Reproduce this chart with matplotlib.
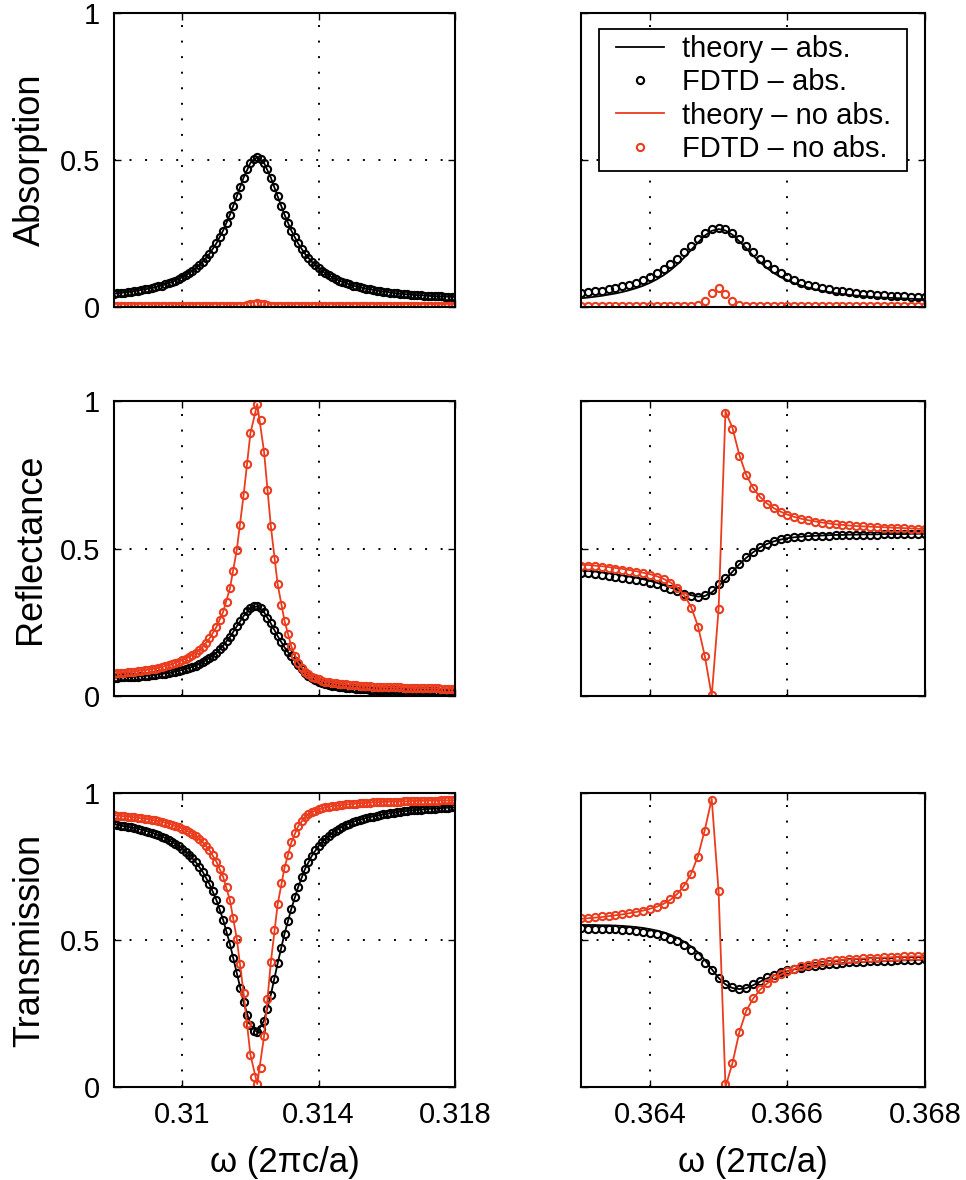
import numpy as np
import matplotlib.pyplot as plt
from matplotlib.patches import Rectangle

plt.rcParams['font.family'] = ['Liberation Sans', 'DejaVu Sans']

RED = '#eb3c1e'

# frequency sweeps, units of 2*pi*c/a
w_left = np.round(np.linspace(0.308, 0.318, 101), 4)
w_left_th = np.round(np.linspace(0.308, 0.318, 51), 4)
w_right = np.round(np.linspace(0.363, 0.368, 51), 4)
w_right_th = np.round(np.linspace(0.363, 0.368, 51), 4)

# ---------------- left resonance (omega ~ 0.3122) ----------------
abs_fdtd_L = [
    0.045, 0.046, 0.048, 0.049, 0.051, 0.052, 0.054, 0.056, 0.058, 0.060,
    0.062, 0.065, 0.067, 0.070, 0.073, 0.077, 0.081, 0.085, 0.090, 0.095,
    0.101, 0.108, 0.115, 0.123, 0.132, 0.142, 0.154, 0.167, 0.181, 0.197,
    0.216, 0.237, 0.260, 0.286, 0.314, 0.344, 0.376, 0.409, 0.440, 0.468,
    0.490, 0.505, 0.510, 0.505, 0.490, 0.468, 0.440, 0.409, 0.376, 0.344,
    0.314, 0.286, 0.260, 0.237, 0.216, 0.197, 0.181, 0.167, 0.154, 0.142,
    0.132, 0.123, 0.115, 0.108, 0.101, 0.095, 0.090, 0.085, 0.081, 0.077,
    0.073, 0.070, 0.067, 0.065, 0.062, 0.060, 0.058, 0.056, 0.054, 0.052,
    0.051, 0.049, 0.048, 0.046, 0.045, 0.044, 0.043, 0.042, 0.041, 0.040,
    0.040, 0.039, 0.038, 0.037, 0.037, 0.036, 0.036, 0.035, 0.035, 0.034,
    0.034]
abs_theory_L = [
    0.045, 0.048, 0.051, 0.054, 0.058, 0.062, 0.067, 0.073, 0.081, 0.090,
    0.101, 0.115, 0.132, 0.154, 0.181, 0.216, 0.260, 0.314, 0.376, 0.440,
    0.490, 0.510, 0.490, 0.440, 0.376, 0.314, 0.260, 0.216, 0.181, 0.154,
    0.132, 0.115, 0.101, 0.090, 0.081, 0.073, 0.067, 0.062, 0.058, 0.054,
    0.051, 0.048, 0.045, 0.043, 0.041, 0.040, 0.038, 0.037, 0.036, 0.035,
    0.034]
abs_fdtd_noabs_L = [
    0.003, 0.003, 0.003, 0.003, 0.003, 0.003, 0.003, 0.003, 0.003, 0.003,
    0.003, 0.003, 0.003, 0.003, 0.003, 0.003, 0.003, 0.003, 0.003, 0.003,
    0.003, 0.003, 0.003, 0.003, 0.003, 0.003, 0.003, 0.003, 0.003, 0.003,
    0.003, 0.003, 0.003, 0.003, 0.003, 0.003, 0.003, 0.003, 0.005, 0.007,
    0.009, 0.011, 0.012, 0.011, 0.009, 0.007, 0.005, 0.004, 0.003, 0.003,
    0.003, 0.003, 0.003, 0.003, 0.003, 0.003, 0.003, 0.003, 0.003, 0.003,
    0.003, 0.003, 0.003, 0.003, 0.003, 0.003, 0.003, 0.003, 0.003, 0.003,
    0.003, 0.003, 0.003, 0.003, 0.003, 0.003, 0.003, 0.003, 0.003, 0.003,
    0.003, 0.003, 0.003, 0.003, 0.003, 0.003, 0.003, 0.003, 0.003, 0.003,
    0.003, 0.003, 0.003, 0.003, 0.003, 0.003, 0.003, 0.003, 0.003, 0.003,
    0.003]
abs_theory_noabs_L = [
    0.0, 0.0, 0.0, 0.0, 0.0, 0.0, 0.0, 0.0, 0.0, 0.0,
    0.0, 0.0, 0.0, 0.0, 0.0, 0.0, 0.0, 0.0, 0.0, 0.0,
    0.0, 0.0, 0.0, 0.0, 0.0, 0.0, 0.0, 0.0, 0.0, 0.0,
    0.0, 0.0, 0.0, 0.0, 0.0, 0.0, 0.0, 0.0, 0.0, 0.0,
    0.0, 0.0, 0.0, 0.0, 0.0, 0.0, 0.0, 0.0, 0.0, 0.0,
    0.0]

ref_fdtd_L = [
    0.061, 0.062, 0.063, 0.063, 0.064, 0.065, 0.065, 0.066, 0.067, 0.068,
    0.069, 0.070, 0.072, 0.073, 0.075, 0.076, 0.078, 0.080, 0.083, 0.085,
    0.088, 0.091, 0.095, 0.099, 0.103, 0.108, 0.114, 0.121, 0.129, 0.137,
    0.147, 0.158, 0.171, 0.185, 0.200, 0.218, 0.236, 0.254, 0.271, 0.287,
    0.298, 0.304, 0.304, 0.297, 0.284, 0.266, 0.246, 0.224, 0.203, 0.183,
    0.165, 0.149, 0.134, 0.118, 0.104, 0.090, 0.078, 0.068, 0.060, 0.053,
    0.048, 0.044, 0.040, 0.037, 0.035, 0.033, 0.031, 0.029, 0.028, 0.027,
    0.026, 0.025, 0.024, 0.023, 0.023, 0.022, 0.022, 0.021, 0.021, 0.020,
    0.020, 0.019, 0.019, 0.019, 0.018, 0.018, 0.018, 0.017, 0.017, 0.017,
    0.017, 0.016, 0.016, 0.016, 0.016, 0.015, 0.015, 0.015, 0.015, 0.015,
    0.015]
ref_theory_L = [
    0.061, 0.063, 0.064, 0.065, 0.067, 0.069, 0.072, 0.075, 0.078, 0.083,
    0.088, 0.095, 0.103, 0.114, 0.129, 0.147, 0.171, 0.200, 0.236, 0.271,
    0.298, 0.304, 0.284, 0.246, 0.203, 0.165, 0.134, 0.104, 0.078, 0.060,
    0.048, 0.040, 0.035, 0.031, 0.028, 0.026, 0.024, 0.023, 0.022, 0.021,
    0.020, 0.019, 0.018, 0.018, 0.017, 0.017, 0.016, 0.016, 0.015, 0.015,
    0.015]
ref_fdtd_noabs_L = [
    0.076, 0.077, 0.078, 0.079, 0.080, 0.082, 0.083, 0.084, 0.086, 0.087,
    0.089, 0.091, 0.093, 0.095, 0.098, 0.101, 0.104, 0.108, 0.112, 0.116,
    0.121, 0.126, 0.132, 0.139, 0.147, 0.156, 0.167, 0.180, 0.195, 0.212,
    0.233, 0.257, 0.285, 0.320, 0.365, 0.425, 0.495, 0.580, 0.680, 0.785,
    0.890, 0.965, 0.990, 0.935, 0.828, 0.700, 0.575, 0.465, 0.378, 0.307,
    0.255, 0.210, 0.168, 0.137, 0.113, 0.095, 0.082, 0.073, 0.066, 0.060,
    0.056, 0.052, 0.049, 0.047, 0.045, 0.043, 0.042, 0.040, 0.039, 0.038,
    0.037, 0.036, 0.035, 0.034, 0.034, 0.033, 0.032, 0.032, 0.031, 0.031,
    0.030, 0.030, 0.029, 0.029, 0.029, 0.028, 0.028, 0.028, 0.027, 0.027,
    0.027, 0.027, 0.026, 0.026, 0.026, 0.026, 0.025, 0.025, 0.025, 0.025,
    0.025]
ref_theory_noabs_L = [
    0.076, 0.078, 0.080, 0.083, 0.086, 0.089, 0.093, 0.098, 0.104, 0.112,
    0.121, 0.132, 0.147, 0.167, 0.195, 0.233, 0.285, 0.365, 0.495, 0.680,
    0.890, 0.990, 0.828, 0.575, 0.378, 0.255, 0.168, 0.113, 0.082, 0.066,
    0.056, 0.049, 0.045, 0.042, 0.039, 0.037, 0.035, 0.034, 0.032, 0.031,
    0.030, 0.029, 0.029, 0.028, 0.027, 0.027, 0.026, 0.026, 0.025, 0.025,
    0.025]

tra_fdtd_L = [
    0.894, 0.892, 0.889, 0.888, 0.885, 0.883, 0.881, 0.878, 0.875, 0.872,
    0.869, 0.865, 0.861, 0.857, 0.852, 0.847, 0.841, 0.835, 0.827, 0.820,
    0.811, 0.801, 0.790, 0.778, 0.765, 0.750, 0.732, 0.712, 0.690, 0.666,
    0.637, 0.605, 0.569, 0.529, 0.486, 0.438, 0.388, 0.337, 0.289, 0.245,
    0.212, 0.191, 0.186, 0.198, 0.226, 0.266, 0.314, 0.367, 0.421, 0.473,
    0.521, 0.565, 0.606, 0.645, 0.680, 0.713, 0.741, 0.765, 0.786, 0.805,
    0.820, 0.833, 0.845, 0.855, 0.864, 0.872, 0.879, 0.886, 0.891, 0.896,
    0.901, 0.905, 0.909, 0.912, 0.915, 0.918, 0.920, 0.923, 0.925, 0.928,
    0.929, 0.932, 0.933, 0.935, 0.937, 0.938, 0.939, 0.941, 0.942, 0.943,
    0.943, 0.945, 0.946, 0.947, 0.947, 0.949, 0.949, 0.950, 0.950, 0.951,
    0.951]
tra_theory_L = [
    0.894, 0.889, 0.885, 0.881, 0.875, 0.869, 0.861, 0.852, 0.841, 0.827,
    0.811, 0.790, 0.765, 0.732, 0.690, 0.637, 0.569, 0.486, 0.388, 0.289,
    0.212, 0.186, 0.226, 0.314, 0.421, 0.521, 0.606, 0.680, 0.741, 0.786,
    0.820, 0.845, 0.864, 0.879, 0.891, 0.901, 0.909, 0.915, 0.920, 0.925,
    0.929, 0.933, 0.937, 0.939, 0.942, 0.943, 0.946, 0.947, 0.949, 0.950,
    0.951]
tra_fdtd_noabs_L = [
    0.924, 0.923, 0.922, 0.921, 0.920, 0.918, 0.917, 0.916, 0.914, 0.913,
    0.911, 0.909, 0.907, 0.905, 0.902, 0.899, 0.896, 0.892, 0.888, 0.884,
    0.879, 0.874, 0.868, 0.861, 0.853, 0.844, 0.833, 0.820, 0.805, 0.788,
    0.767, 0.743, 0.715, 0.680, 0.635, 0.575, 0.505, 0.420, 0.320, 0.215,
    0.110, 0.035, 0.010, 0.065, 0.172, 0.300, 0.425, 0.535, 0.622, 0.693,
    0.745, 0.790, 0.832, 0.863, 0.887, 0.905, 0.918, 0.927, 0.934, 0.940,
    0.944, 0.948, 0.951, 0.953, 0.955, 0.957, 0.958, 0.960, 0.961, 0.962,
    0.963, 0.964, 0.965, 0.966, 0.966, 0.967, 0.968, 0.968, 0.969, 0.969,
    0.970, 0.970, 0.971, 0.971, 0.971, 0.972, 0.972, 0.972, 0.973, 0.973,
    0.973, 0.973, 0.974, 0.974, 0.974, 0.974, 0.975, 0.975, 0.975, 0.975,
    0.975]
tra_theory_noabs_L = [
    0.924, 0.922, 0.920, 0.917, 0.914, 0.911, 0.907, 0.902, 0.896, 0.888,
    0.879, 0.868, 0.853, 0.833, 0.805, 0.767, 0.715, 0.635, 0.505, 0.320,
    0.110, 0.010, 0.172, 0.425, 0.622, 0.745, 0.832, 0.887, 0.918, 0.934,
    0.944, 0.951, 0.955, 0.958, 0.961, 0.963, 0.965, 0.966, 0.968, 0.969,
    0.970, 0.971, 0.971, 0.972, 0.973, 0.973, 0.974, 0.974, 0.975, 0.975,
    0.975]

# ---------------- right resonance (omega ~ 0.365, Fano) ----------------
abs_fdtd_R = [
    0.047, 0.050, 0.053, 0.056, 0.060, 0.065, 0.070, 0.076, 0.083, 0.092,
    0.102, 0.114, 0.128, 0.145, 0.164, 0.186, 0.208, 0.231, 0.251, 0.265,
    0.270, 0.265, 0.251, 0.231, 0.208, 0.186, 0.164, 0.145, 0.128, 0.114,
    0.102, 0.092, 0.083, 0.076, 0.070, 0.065, 0.060, 0.056, 0.053, 0.050,
    0.047, 0.045, 0.043, 0.041, 0.040, 0.038, 0.037, 0.036, 0.035, 0.034,
    0.033]
abs_theory_R = [
    0.030, 0.032, 0.035, 0.038, 0.042, 0.046, 0.051, 0.057, 0.064, 0.072,
    0.082, 0.094, 0.108, 0.125, 0.145, 0.168, 0.194, 0.219, 0.243, 0.259,
    0.265, 0.260, 0.246, 0.224, 0.200, 0.175, 0.153, 0.133, 0.116, 0.102,
    0.091, 0.081, 0.073, 0.066, 0.060, 0.055, 0.051, 0.047, 0.044, 0.041,
    0.039, 0.037, 0.035, 0.033, 0.032, 0.031, 0.030, 0.029, 0.028, 0.027,
    0.027]
abs_fdtd_noabs_R = [
    0.003, 0.003, 0.003, 0.003, 0.003, 0.003, 0.003, 0.003, 0.003, 0.003,
    0.003, 0.003, 0.003, 0.003, 0.003, 0.003, 0.003, 0.008, 0.020, 0.046,
    0.066, 0.044, 0.019, 0.008, 0.003, 0.003, 0.003, 0.003, 0.003, 0.003,
    0.003, 0.003, 0.003, 0.003, 0.003, 0.003, 0.003, 0.003, 0.003, 0.003,
    0.003, 0.003, 0.003, 0.003, 0.003, 0.003, 0.003, 0.003, 0.003, 0.003,
    0.003]
abs_theory_noabs_R = [
    0.0, 0.0, 0.0, 0.0, 0.0, 0.0, 0.0, 0.0, 0.0, 0.0,
    0.0, 0.0, 0.0, 0.0, 0.0, 0.0, 0.0, 0.0, 0.0, 0.0,
    0.0, 0.0, 0.0, 0.0, 0.0, 0.0, 0.0, 0.0, 0.0, 0.0,
    0.0, 0.0, 0.0, 0.0, 0.0, 0.0, 0.0, 0.0, 0.0, 0.0,
    0.0, 0.0, 0.0, 0.0, 0.0, 0.0, 0.0, 0.0, 0.0, 0.0,
    0.0]

ref_fdtd_R = [
    0.418, 0.416, 0.413, 0.411, 0.408, 0.404, 0.401, 0.397, 0.393, 0.389,
    0.384, 0.378, 0.371, 0.363, 0.355, 0.347, 0.340, 0.337, 0.343, 0.358,
    0.378, 0.399, 0.423, 0.448, 0.470, 0.489, 0.505, 0.516, 0.525, 0.531,
    0.535, 0.538, 0.540, 0.541, 0.542, 0.543, 0.544, 0.545, 0.545, 0.546,
    0.546, 0.547, 0.547, 0.547, 0.548, 0.548, 0.548, 0.548, 0.549, 0.549,
    0.549]
ref_theory_R = [
    0.426, 0.424, 0.422, 0.419, 0.416, 0.413, 0.409, 0.405, 0.401, 0.396,
    0.390, 0.384, 0.376, 0.368, 0.359, 0.350, 0.342, 0.337, 0.339, 0.351,
    0.372, 0.396, 0.421, 0.446, 0.468, 0.487, 0.503, 0.515, 0.524, 0.530,
    0.535, 0.538, 0.540, 0.542, 0.543, 0.544, 0.545, 0.546, 0.546, 0.547,
    0.547, 0.548, 0.548, 0.548, 0.549, 0.549, 0.549, 0.549, 0.550, 0.550,
    0.550]
ref_fdtd_noabs_R = [
    0.442, 0.441, 0.439, 0.437, 0.434, 0.431, 0.428, 0.424, 0.420, 0.416,
    0.411, 0.404, 0.395, 0.383, 0.366, 0.340, 0.300, 0.235, 0.135, 0.005,
    0.295, 0.960, 0.905, 0.815, 0.748, 0.705, 0.674, 0.652, 0.636, 0.624,
    0.614, 0.606, 0.600, 0.595, 0.591, 0.587, 0.584, 0.582, 0.580, 0.578,
    0.576, 0.575, 0.573, 0.572, 0.571, 0.570, 0.569, 0.568, 0.567, 0.566,
    0.565]
ref_theory_noabs_R = [
    0.445, 0.444, 0.442, 0.440, 0.437, 0.434, 0.431, 0.427, 0.423, 0.418,
    0.413, 0.406, 0.397, 0.385, 0.368, 0.342, 0.302, 0.237, 0.135, 0.000,
    0.295, 0.965, 0.910, 0.818, 0.750, 0.706, 0.675, 0.653, 0.637, 0.625,
    0.615, 0.607, 0.601, 0.596, 0.592, 0.588, 0.585, 0.582, 0.580, 0.578,
    0.576, 0.575, 0.574, 0.573, 0.572, 0.571, 0.570, 0.569, 0.568, 0.567,
    0.566]

tra_fdtd_R = [
    0.540, 0.539, 0.539, 0.538, 0.537, 0.536, 0.535, 0.533, 0.531, 0.528,
    0.525, 0.520, 0.513, 0.505, 0.495, 0.483, 0.467, 0.447, 0.423, 0.398,
    0.372, 0.352, 0.339, 0.333, 0.338, 0.350, 0.362, 0.373, 0.382, 0.390,
    0.397, 0.402, 0.406, 0.410, 0.413, 0.416, 0.418, 0.420, 0.422, 0.424,
    0.425, 0.426, 0.427, 0.428, 0.429, 0.430, 0.431, 0.432, 0.432, 0.433,
    0.434]
tra_theory_R = [
    0.551, 0.551, 0.551, 0.550, 0.550, 0.549, 0.548, 0.546, 0.544, 0.541,
    0.537, 0.532, 0.526, 0.518, 0.507, 0.494, 0.478, 0.458, 0.432, 0.401,
    0.371, 0.349, 0.337, 0.333, 0.336, 0.346, 0.358, 0.369, 0.379, 0.387,
    0.394, 0.400, 0.404, 0.408, 0.412, 0.415, 0.417, 0.419, 0.421, 0.423,
    0.424, 0.425, 0.426, 0.427, 0.428, 0.429, 0.430, 0.431, 0.431, 0.432,
    0.433]
tra_fdtd_noabs_R = [
    0.574, 0.576, 0.578, 0.580, 0.583, 0.586, 0.589, 0.592, 0.596, 0.600,
    0.606, 0.613, 0.623, 0.638, 0.658, 0.685, 0.725, 0.782, 0.870, 0.975,
    0.665, 0.010, 0.082, 0.188, 0.260, 0.302, 0.332, 0.353, 0.370, 0.383,
    0.394, 0.403, 0.410, 0.416, 0.421, 0.425, 0.428, 0.431, 0.433, 0.435,
    0.437, 0.438, 0.439, 0.440, 0.441, 0.442, 0.443, 0.444, 0.445, 0.445,
    0.446]
tra_theory_noabs_R = [
    0.572, 0.574, 0.576, 0.578, 0.581, 0.584, 0.587, 0.591, 0.595, 0.600,
    0.606, 0.613, 0.623, 0.637, 0.657, 0.685, 0.725, 0.785, 0.875, 0.980,
    0.665, 0.000, 0.080, 0.185, 0.258, 0.300, 0.330, 0.351, 0.368, 0.381,
    0.392, 0.401, 0.408, 0.414, 0.419, 0.423, 0.427, 0.430, 0.432, 0.434,
    0.436, 0.437, 0.438, 0.439, 0.440, 0.441, 0.442, 0.443, 0.444, 0.444,
    0.445]

row_labels = ['Absorption', 'Reflectance', 'Transmission']
left_ticks = [0.31, 0.314, 0.318]
left_ticklabels = ['0.31', '0.314', '0.318']
right_ticks = [0.364, 0.366, 0.368]
right_ticklabels = ['0.364', '0.366', '0.368']

left_rows = [
    (abs_theory_L, abs_fdtd_L, abs_theory_noabs_L, abs_fdtd_noabs_L),
    (ref_theory_L, ref_fdtd_L, ref_theory_noabs_L, ref_fdtd_noabs_L),
    (tra_theory_L, tra_fdtd_L, tra_theory_noabs_L, tra_fdtd_noabs_L),
]
right_rows = [
    (abs_theory_R, abs_fdtd_R, abs_theory_noabs_R, abs_fdtd_noabs_R),
    (ref_theory_R, ref_fdtd_R, ref_theory_noabs_R, ref_fdtd_noabs_R),
    (tra_theory_R, tra_fdtd_R, tra_theory_noabs_R, tra_fdtd_noabs_R),
]

W, H = 966, 1180
fig = plt.figure(figsize=(W / 100, H / 100), dpi=100)

# panel boxes in pixels: (left, top, width, height)
col_x = [114, 581]
col_w = [341, 344]
row_top = [13, 401, 793]
row_h = [294, 295, 294]

marker_kw = dict(linestyle='none', marker='o', markersize=5.2,
                 markerfacecolor='none', markeredgewidth=1.5)


def draw_panel(ax, w_th, w_fd, series, labels=False):
    th_abs, fd_abs, th_noabs, fd_noabs = series
    ax.plot(w_th, th_abs, color='black', lw=1.3,
            label='theory \u2013 abs.' if labels else None)
    ax.plot(w_fd, fd_abs, color='black', **marker_kw,
            label='FDTD \u2013 abs.' if labels else None)
    ax.plot(w_th, th_noabs, color=RED, lw=1.3,
            label='theory \u2013 no abs.' if labels else None)
    ax.plot(w_fd, fd_noabs, color=RED, **marker_kw,
            label='FDTD \u2013 no abs.' if labels else None)


for r in range(3):
    for c in range(2):
        left = col_x[c] / W
        bottom = 1 - (row_top[r] + row_h[r]) / H
        ax = fig.add_axes([left, bottom, col_w[c] / W, row_h[r] / H])
        if c == 0:
            draw_panel(ax, w_left_th, w_left, left_rows[r])
            ax.set_xlim(0.308, 0.318)
            ax.set_xticks(left_ticks)
            ax.set_xticklabels(left_ticklabels)
        else:
            draw_panel(ax, w_right_th, w_right, right_rows[r], labels=(r == 0))
            ax.set_xlim(0.363, 0.368)
            ax.set_xticks(right_ticks)
            ax.set_xticklabels(right_ticklabels)
        ax.set_ylim(0, 1)
        ax.set_yticks([0, 0.5, 1])
        if c == 0:
            ax.set_yticklabels(['0', '0.5', '1'])
            ax.set_ylabel(row_labels[r], fontsize=26)
            ax.yaxis.set_label_coords(-0.195, 0.5)
        else:
            ax.set_yticklabels([])
        if r < 2:
            ax.set_xticklabels([])
        else:
            ax.set_xlabel('\u03c9 (2\u03c0c/a)', fontsize=25, labelpad=12)
        ax.grid(True, color='black', linestyle=(0, (1, 7)), linewidth=1.4)
        ax.tick_params(direction='in', length=5, width=1.0, top=True,
                       right=True, labelsize=21, pad=10)
        for sp in ax.spines.values():
            sp.set_linewidth(1.5)
        if r == 0 and c == 1:
            # legend box drawn separately so its padding can differ per side
            ax.add_patch(Rectangle((0.0523, 0.4626), 0.8954, 0.483,
                                   transform=ax.transAxes, facecolor='white',
                                   edgecolor='black', linewidth=1.3,
                                   zorder=4.9))
            ax.legend(loc='upper left', bbox_to_anchor=(0.1017, 0.925),
                      borderaxespad=0, borderpad=0, fontsize=21,
                      handlelength=1.65, handletextpad=0.62,
                      labelspacing=0.18, numpoints=1, frameon=False)

fig.savefig('out.png', dpi=100)
